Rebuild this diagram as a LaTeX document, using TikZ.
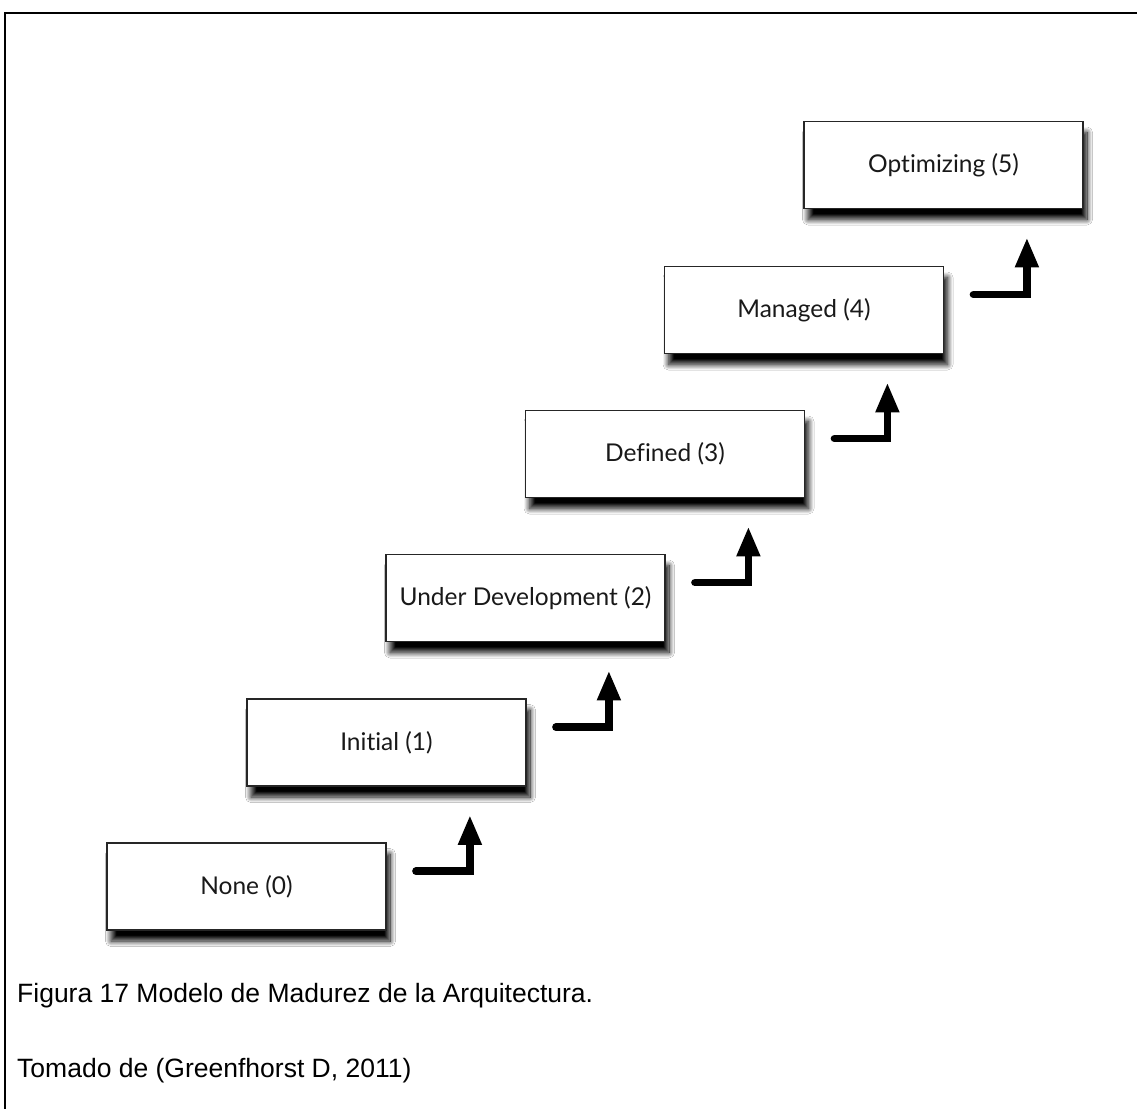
\documentclass[tikz,border=0pt]{standalone}
\usepackage{fontspec}
\setmainfont{Liberation Sans}
\newfontfamily\boxfont[Ligatures=NoCommon]{Lato}
\usetikzlibrary{arrows.meta,shadows.blur,calc}

\begin{document}
\begin{tikzpicture}[x=1pt,y=-1pt,
  level/.style={draw=black!85, line width=1.8pt, fill=white,
    minimum width=279pt, minimum height=87pt, inner sep=0pt,
    font=\boxfont\fontsize{24.5}{29}\selectfont, text=black!90,
    blur shadow={shadow xshift=4pt, shadow yshift=-11pt,
      shadow blur radius=5.5pt, shadow blur steps=16,
      shadow opacity=100}},
  rise/.style={line width=7.5pt, line cap=round,
    -{Triangle[width=22pt,length=30pt]}},
  caption/.style={anchor=base west, inner sep=0pt,
    font=\fontsize{26.5}{31}\selectfont}]

% page and frame (the frame runs on past the right and bottom edges)
\useasboundingbox (0,0) rectangle (1137,1108);
\fill[white] (0,0) rectangle (1137,1108);
\draw[line width=2.5pt] (5,1115) -- (5,13) -- (1145,13);

% maturity levels
\node[level] (n0) at (246.5,886.5) {None (0)};
\node[level] (n1) at (386.5,742.5) {Initial (1)};
\node[level] (n2) at (525.5,598)   {Under Development (2)};
\node[level] (n3) at (665,454)     {Defined (3)};
\node[level] (n4) at (804,310)     {Managed (4)};
\node[level] (n5) at (943.5,165)   {Optimizing (5)};

% step-up arrows
\foreach \a/\b in {n0/n1, n1/n2, n2/n3, n3/n4, n4/n5}
  \draw[rise] ($(\a.north east)+(29,29)$) -| ($(\b.south east)+(-57,28)$);

% caption
\node[caption] (cap1) at (17,1002) {Figura 17 Modelo de Madurez de la Arquitectura.};
\node[caption] (cap2) at (17,1077) {Tomado de (Greenfhorst D, 2011)};
\end{tikzpicture}
\end{document}
